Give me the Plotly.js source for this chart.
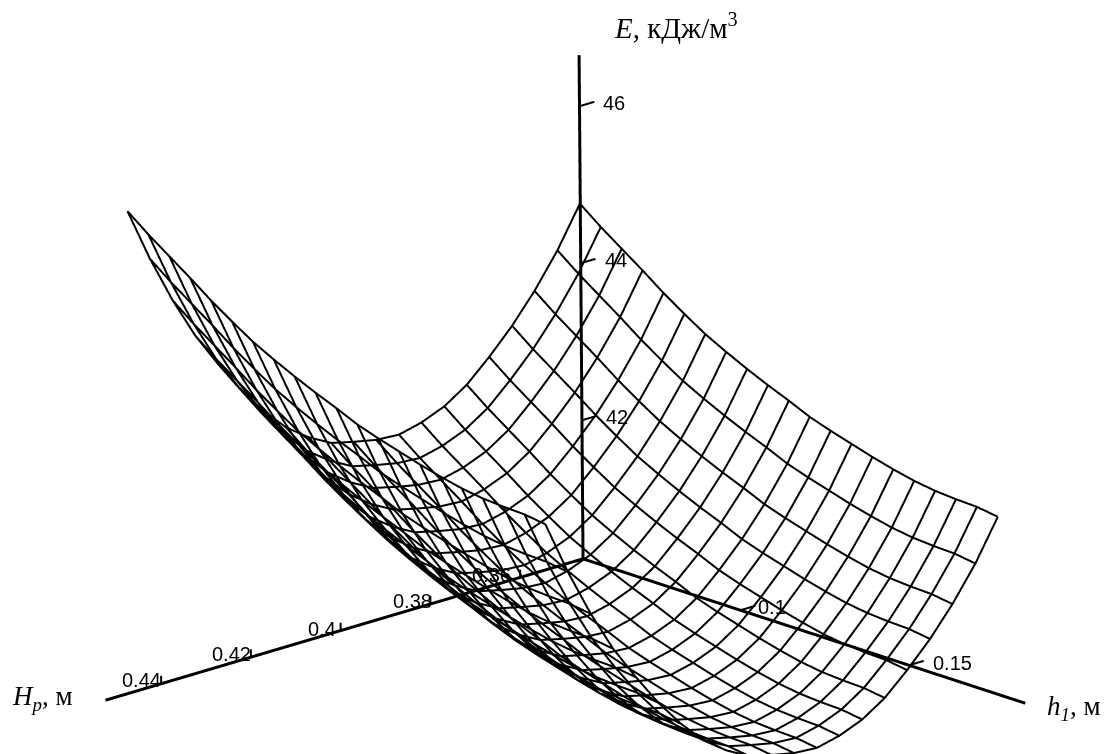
<!DOCTYPE html>
<html><head><meta charset="utf-8">
<script src="https://cdn.plot.ly/plotly-3.0.1.min.js"></script>
<style>html,body{margin:0;padding:0;background:#fff}#c{width:1104px;height:754px}</style></head>
<body><div id="c"></div>
<script>
var hpValues=[0.3467,0.3517,0.3568,0.3618,0.3669,0.3719,0.3769,0.3820,0.3870,0.3921,0.3971,0.4021,0.4072,0.4122,0.4173,0.4223,0.4273,0.4324,0.4374,0.4425,0.4475];
var h1Values=[0.0533,0.0595,0.0657,0.0719,0.0781,0.0843,0.0905,0.0967,0.1029,0.1091,0.1153,0.1215,0.1277,0.1339,0.1401,0.1463,0.1525,0.1587,0.1649,0.1711,0.1773];
var eTable=[
[44.77,44.56,44.37,44.18,43.98,43.80,43.63,43.49,43.36,43.24,43.13,43.01,42.92,42.84,42.76,42.69,42.63,42.59,42.57,42.56,42.52],
[44.26,44.05,43.86,43.67,43.47,43.29,43.12,42.98,42.85,42.73,42.62,42.50,42.41,42.33,42.25,42.18,42.12,42.08,42.06,42.05,42.01],
[43.83,43.62,43.43,43.24,43.04,42.86,42.69,42.55,42.42,42.30,42.19,42.07,41.98,41.90,41.82,41.75,41.69,41.65,41.63,41.62,41.58],
[43.47,43.26,43.07,42.88,42.68,42.50,42.33,42.19,42.06,41.94,41.83,41.71,41.62,41.54,41.46,41.39,41.33,41.29,41.27,41.26,41.22],
[43.16,42.95,42.76,42.57,42.37,42.19,42.02,41.88,41.75,41.63,41.52,41.40,41.31,41.23,41.15,41.08,41.02,40.98,40.96,40.95,40.91],
[42.89,42.68,42.49,42.30,42.10,41.92,41.75,41.61,41.48,41.36,41.25,41.13,41.04,40.96,40.88,40.81,40.75,40.71,40.69,40.68,40.64],
[42.70,42.49,42.30,42.11,41.91,41.73,41.56,41.42,41.29,41.17,41.06,40.94,40.85,40.77,40.69,40.62,40.56,40.52,40.50,40.49,40.45],
[42.58,42.37,42.18,41.99,41.79,41.61,41.44,41.30,41.17,41.05,40.94,40.82,40.73,40.65,40.57,40.50,40.44,40.40,40.38,40.37,40.33],
[42.51,42.30,42.11,41.92,41.72,41.54,41.37,41.23,41.10,40.98,40.87,40.75,40.66,40.58,40.50,40.43,40.37,40.33,40.31,40.30,40.26],
[42.53,42.32,42.13,41.94,41.74,41.56,41.39,41.25,41.12,41.00,40.89,40.77,40.68,40.60,40.52,40.45,40.39,40.35,40.33,40.32,40.28],
[42.59,42.38,42.19,42.00,41.80,41.62,41.45,41.31,41.18,41.06,40.95,40.83,40.74,40.66,40.58,40.51,40.45,40.41,40.39,40.38,40.34],
[42.66,42.45,42.26,42.07,41.87,41.69,41.52,41.38,41.25,41.13,41.02,40.90,40.81,40.73,40.65,40.58,40.52,40.48,40.46,40.45,40.41],
[42.82,42.61,42.42,42.23,42.03,41.85,41.68,41.54,41.41,41.29,41.18,41.06,40.97,40.89,40.81,40.74,40.68,40.64,40.62,40.61,40.57],
[43.03,42.82,42.63,42.44,42.24,42.06,41.89,41.75,41.62,41.50,41.39,41.27,41.18,41.10,41.02,40.95,40.89,40.85,40.83,40.82,40.78],
[43.33,43.12,42.93,42.74,42.54,42.36,42.19,42.05,41.92,41.80,41.69,41.57,41.48,41.40,41.32,41.25,41.19,41.15,41.13,41.12,41.08],
[43.68,43.47,43.28,43.09,42.89,42.71,42.54,42.40,42.27,42.15,42.04,41.92,41.83,41.75,41.67,41.60,41.54,41.50,41.48,41.47,41.43],
[44.09,43.88,43.69,43.50,43.30,43.12,42.95,42.81,42.68,42.56,42.45,42.33,42.24,42.16,42.08,42.01,41.95,41.91,41.89,41.88,41.84],
[44.54,44.33,44.14,43.95,43.75,43.57,43.40,43.26,43.13,43.01,42.90,42.78,42.69,42.61,42.53,42.46,42.40,42.36,42.34,42.33,42.29],
[45.07,44.86,44.67,44.48,44.28,44.10,43.93,43.79,43.66,43.54,43.43,43.31,43.22,43.14,43.06,42.99,42.93,42.89,42.87,42.86,42.82],
[45.69,45.48,45.29,45.10,44.90,44.72,44.55,44.41,44.28,44.16,44.05,43.93,43.84,43.76,43.68,43.61,43.55,43.51,43.49,43.48,43.44],
[46.38,46.17,45.98,45.79,45.59,45.41,45.24,45.10,44.97,44.85,44.74,44.62,44.53,44.45,44.37,44.30,44.24,44.20,44.18,44.17,44.13]
];
var hpTicks=[0.36,0.38,0.4,0.42,0.44], hpLabels=['0.36','0.38','0.4','0.42','0.44'];
var h1Ticks=[0.1,0.15], h1Labels=['0.1','0.15'];
var eTicks=[42,44,46], eLabels=['42','44','46'];
var hpAxisEnds=[0.346,0.4524], h1AxisEnds=[0.0533,0.1845], eAxisEnds=[40.235,46.65];
var hpLabelDx=[-7,4,-3,2,2], hpLabelDy=[2,3,2,3,4];
var h1LabelDx=[16,22], h1LabelDy=[3,2];
var hp0=hpAxisEnds[0],h0=h1AxisEnds[0],e0=eAxisEnds[0];
var tr=[];
function ln(x,y,z,w){tr.push({type:'scatter3d',mode:'lines',x:x,y:y,z:z,line:{color:'#000',width:w},hoverinfo:'skip',showlegend:false});}
hpValues.forEach(function(hp,i){ln(h1Values.map(function(){return hp}),h1Values,eTable[i],4);});
h1Values.forEach(function(h,j){ln(hpValues,hpValues.map(function(){return h}),eTable.map(function(r){return r[j]}),4);});
ln(hpAxisEnds,[h0,h0],[e0,e0],6);
ln([hp0,hp0],h1AxisEnds,[e0,e0],6);
ln([hp0,hp0+0.0005],[h0,h0-0.0005],eAxisEnds,6);
var ann=[];
var lab={family:'Liberation Sans',size:20,color:'#000'};
hpTicks.forEach(function(t,i){ln([t,t],[h0,h0],[e0,e0+0.1],4);ann.push({x:t,y:h0,z:e0,text:hpLabels[i],showarrow:false,xanchor:'right',yanchor:'middle',xshift:hpLabelDx[i],yshift:hpLabelDy[i],font:lab});});
h1Ticks.forEach(function(t,i){ln([hp0-0.0033,hp0],[t,t],[e0,e0],4);ann.push({x:hp0,y:t,z:e0,text:h1Labels[i],showarrow:false,xanchor:'left',yanchor:'middle',xshift:h1LabelDx[i],yshift:h1LabelDy[i],font:lab});});
eTicks.forEach(function(t,i){var f=(t-e0)/(eAxisEnds[1]-e0),bx=hp0+0.0005*f,by=h0-0.0005*f;ln([bx-0.0033,bx],[by,by],[t,t],4);ann.push({x:bx,y:by,z:t,text:eLabels[i],showarrow:false,xanchor:'left',yanchor:'middle',xshift:22,yshift:3,font:lab});});
var ax={visible:false,showgrid:false,zeroline:false,showbackground:false,showspikes:false,showticklabels:false,title:{text:''}};
function A(r){return Object.assign({},ax,{range:r,autorange:false});}
var layout={width:1104,height:754,margin:{l:0,r:0,t:0,b:0},paper_bgcolor:'#fff',showlegend:false,
scene:{domain:{x:[0,1],y:[0,1]},xaxis:A([0.33,0.476]),yaxis:A([0.05,0.19]),zaxis:A([38.45,50.45]),
aspectmode:'manual',aspectratio:{x:2.40,y:1.815,z:2.63},
camera:{projection:{type:'orthographic'},up:{x:0,y:0,z:1},center:{x:0,y:0,z:0},eye:{x:0.6554,y:0.6883,z:0.311}},annotations:ann},
annotations:[
{xref:'paper',yref:'paper',x:612/1104,y:1-26/754,xanchor:'left',yanchor:'middle',showarrow:false,text:'<i>E</i>, кДж/м<sup>3</sup>',font:{family:'Liberation Serif',size:29,color:'#000'}},
{xref:'paper',yref:'paper',x:10/1104,y:1-698/754,xanchor:'left',yanchor:'middle',showarrow:false,text:'<i>H<sub>p</sub></i>, м',font:{family:'Liberation Serif',size:27,color:'#000'}},
{xref:'paper',yref:'paper',x:1045/1104,y:1-708/754,xanchor:'left',yanchor:'middle',showarrow:false,text:'<i>h<sub>1</sub></i>, м',font:{family:'Liberation Serif',size:27,color:'#000'}}
]};
Plotly.newPlot('c',tr,layout,{displayModeBar:false});
</script></body></html>
